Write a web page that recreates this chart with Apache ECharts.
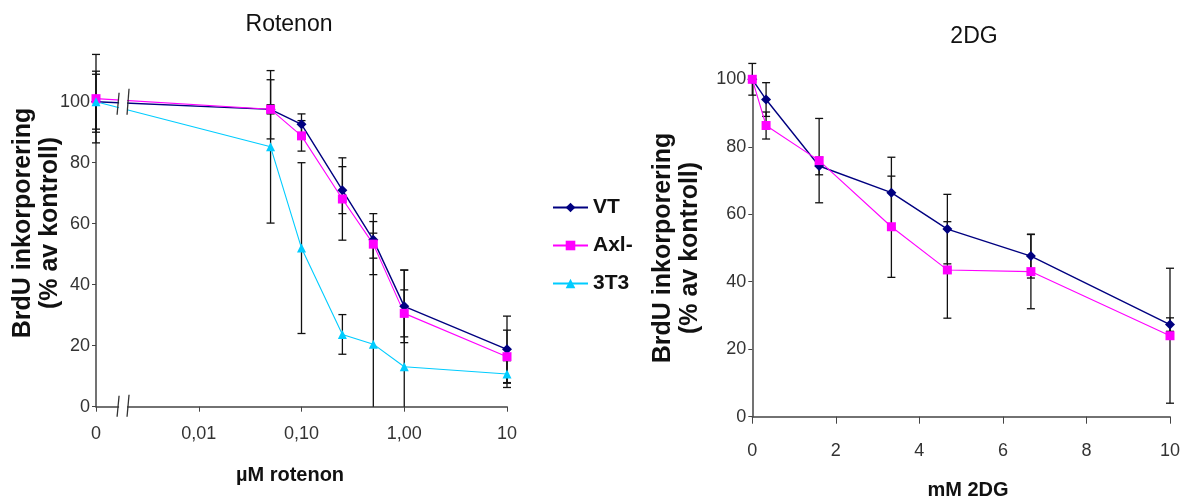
<!DOCTYPE html>
<html>
<head>
<meta charset="utf-8">
<script src="https://cdn.jsdelivr.net/npm/echarts@6/dist/echarts.min.js"></script>
<style>
  html, body { margin: 0; padding: 0; background: #fff; }
  #main { width: 1189px; height: 499px; }
</style>
</head>
<body>
<div id="main"></div>
<script>
// 数据：左图 rotenon (log 轴, 0 画在 0.001 处), 右图 2DG
const rotX = [0.001, 0.05, 0.1, 0.25, 0.5, 1, 10];
const rotTickLabels = ['0', '0,01', '0,10', '1,00', '10'];
const rotVT = [100, 97.5, 92.6, 71, 54.7, 32.9, 18.8];
const rotVTErr = [9, 9.7, 3.4, 7.7, 6, 11.9, 10.9];
const rotAxl = [101, 97.5, 88.8, 68.1, 53.3, 30.6, 16.4];
const rotAxlErr = [14.5, 1.5, 5, 13.5, 10, 7.7, 8.7];
const rot3T3 = [100, 85.2, 52, 23.7, 20.5, 13.1, 10.7];
const rot3T3Err = [10, 25, 28, 6.5, 36.4, 31.7, 4.4];

const dgX = [0, 0.33, 1.6, 3.33, 4.67, 6.67, 10];
const dgVT = [100, 94, 74.3, 66.4, 55.6, 47.6, 27.3];
const dgVTErr = [4.7, 5, 2.6, 10.5, 10.3, 6.5, 2];
const dgAxl = [100, 86.3, 75.9, 56.3, 43.5, 43, 24];
const dgAxlErr = [0, 4, 12.5, 15, 14.3, 11, 20];

const seriesNames = ['VT', 'Axl-', '3T3'];
const colors = ['#000080', '#ff00ff', '#00ccff'];
const symbols = ['diamond', 'rect', 'triangle'];

// 轴断点位置（左图 x 轴）
const breakAt = [0.00164, 0.00205];

const FONT = 'Arial, "Liberation Sans", sans-serif';

function pairs(xs, ys) {
    return xs.map(function (x, i) { return [x, ys[i]]; });
}
function errData(xs, ys, es) {
    return xs.map(function (x, i) { return [x, ys[i] - es[i], ys[i] + es[i]]; });
}

function renderErr(params, api) {
    const x = api.value(0);
    const lo = api.value(1);
    const hi = api.value(2);
    if (hi - lo <= 0) return;
    const top = api.coord([x, hi]);
    const bot = api.coord([x, Math.max(lo, 0)]);
    const w = 4;
    const style = { stroke: '#111', lineWidth: 1.3 };
    const children = [
        { type: 'line', shape: { x1: top[0], y1: top[1], x2: bot[0], y2: bot[1] }, style: style },
        { type: 'line', shape: { x1: top[0] - w, y1: top[1], x2: top[0] + w, y2: top[1] }, style: style }
    ];
    if (lo >= 0) {
        children.push({ type: 'line', shape: { x1: bot[0] - w, y1: bot[1], x2: bot[0] + w, y2: bot[1] }, style: style });
    }
    return { type: 'group', children: children };
}

function lineSeries(idx, gi, data) {
    return {
        name: seriesNames[idx],
        type: 'line',
        xAxisIndex: gi,
        yAxisIndex: gi,
        data: data,
        symbol: symbols[idx],
        symbolSize: idx === 0 ? 10 : 9,
        clip: false,
        z: 3,
        itemStyle: { color: colors[idx] },
        lineStyle: { color: colors[idx], width: idx === 0 ? 1.4 : 1.1 }
    };
}

function errSeries(gi, data) {
    return {
        type: 'custom',
        xAxisIndex: gi,
        yAxisIndex: gi,
        renderItem: renderErr,
        data: data,
        encode: { x: 0, y: [1, 2] },
        clip: false,
        silent: true,
        z: 2
    };
}

const axisLine = { show: true, lineStyle: { color: '#444', width: 1.5 } };
const labelStyle = { color: '#333', fontSize: 18, fontFamily: FONT };

function yAxis(gi) {
    return {
        type: 'value',
        gridIndex: gi,
        min: 0,
        max: 100,
        interval: 20,
        axisLine: axisLine,
        axisTick: { show: true, length: 4, lineStyle: { color: '#444' } },
        axisLabel: Object.assign({ margin: 6 }, labelStyle),
        splitLine: { show: false }
    };
}

const chart = echarts.init(document.getElementById('main'));

const option = {
    animation: false,
    backgroundColor: '#fff',
    grid: [
        { left: 96, right: 682, top: 101.7, bottom: 92.3 },
        { left: 752.3, right: 19, top: 79.3, bottom: 82.3 }
    ],
    legend: {
        orient: 'vertical',
        left: 547,
        top: 192,
        data: seriesNames,
        itemWidth: 35,
        itemHeight: 12,
        itemGap: 17,
        textStyle: { fontSize: 21, fontWeight: 'bold', fontFamily: FONT, color: '#111', lineHeight: 21 }
    },
    xAxis: [
        {
            type: 'log',
            gridIndex: 0,
            logBase: 10,
            min: 0.001,
            max: 10,
            axisLine: axisLine,
            axisTick: { show: true, length: 5, lineStyle: { color: '#444' } },
            axisLabel: Object.assign({
                margin: 18,
                formatter: function (v) {
                    return rotTickLabels[Math.round(Math.log10(v)) + 3];
                }
            }, labelStyle),
            splitLine: { show: false },
            minorTick: { show: false }
        },
        {
            type: 'value',
            gridIndex: 1,
            min: 0,
            max: 10,
            interval: 2,
            axisLine: axisLine,
            axisTick: { show: true, length: 7, lineStyle: { color: '#444' } },
            axisLabel: Object.assign({ margin: 25 }, labelStyle),
            splitLine: { show: false }
        }
    ],
    yAxis: [yAxis(0), yAxis(1)],
    series: [
        errSeries(0, errData(rotX, rotVT, rotVTErr)),
        errSeries(0, errData(rotX, rotAxl, rotAxlErr)),
        errSeries(0, errData(rotX, rot3T3, rot3T3Err)),
        lineSeries(0, 0, pairs(rotX, rotVT)),
        lineSeries(1, 0, pairs(rotX, rotAxl)),
        lineSeries(2, 0, pairs(rotX, rot3T3)),
        errSeries(1, errData(dgX, dgVT, dgVTErr)),
        errSeries(1, errData(dgX, dgAxl, dgAxlErr)),
        lineSeries(0, 1, pairs(dgX, dgVT)),
        lineSeries(1, 1, pairs(dgX, dgAxl))
    ]
};
chart.setOption(option);

// 文字和轴断点
function txt(x, y, text, size, bold, rot) {
    return {
        type: 'text',
        x: x,
        y: y,
        rotation: rot || 0,
        z: 100,
        style: {
            text: text,
            fontSize: size,
            fontWeight: bold ? 'bold' : 'normal',
            fontFamily: FONT,
            fill: '#111',
            align: 'center',
            verticalAlign: 'middle'
        }
    };
}
function seg(x1, y1, x2, y2) {
    return { type: 'line', z: 100, shape: { x1: x1, y1: y1, x2: x2, y2: y2 }, style: { stroke: '#333', lineWidth: 1.3 } };
}

const pos = function (p) { return chart.convertToPixel({ xAxisIndex: 0, yAxisIndex: 0 }, p); };
const bA = pos([breakAt[0], 100]);
const bB = pos([breakAt[1], 100]);
const aA = pos([breakAt[0], 0]);
const aB = pos([breakAt[1], 0]);

const graphics = [
    txt(289, 25, 'Rotenon', 23, false),
    txt(974, 37, '2DG', 23, false),
    txt(290, 475, 'µM rotenon', 20, true),
    txt(968, 490, 'mM 2DG', 20, true),
    txt(23, 223, 'BrdU inkorporering', 25, true, Math.PI / 2),
    txt(50, 223, '(% av kontroll)', 25, true, Math.PI / 2),
    txt(663, 248, 'BrdU inkorporering', 25, true, Math.PI / 2),
    txt(690, 248, '(% av kontroll)', 25, true, Math.PI / 2),
    // 断点遮挡
    { type: 'rect', z: 99, shape: { x: bA[0] + 1, y: bA[1] - 12, width: bB[0] - bA[0] - 2, height: 24 }, style: { fill: '#fff' } },
    { type: 'rect', z: 99, shape: { x: aA[0] + 1, y: aA[1] - 4, width: aB[0] - aA[0] - 2, height: 8 }, style: { fill: '#fff' } },
    seg(bA[0] + 1, bA[1] - 9, bA[0] - 1, bA[1] + 13),
    seg(bB[0] + 1, bB[1] - 13, bB[0] - 1, bB[1] + 13),
    seg(aA[0] + 1, aA[1] - 11, aA[0] - 1, aA[1] + 10),
    seg(aB[0] + 1, aB[1] - 12, aB[0] - 1, aB[1] + 10)
];
chart.setOption({ graphic: graphics });
</script>
</body>
</html>
